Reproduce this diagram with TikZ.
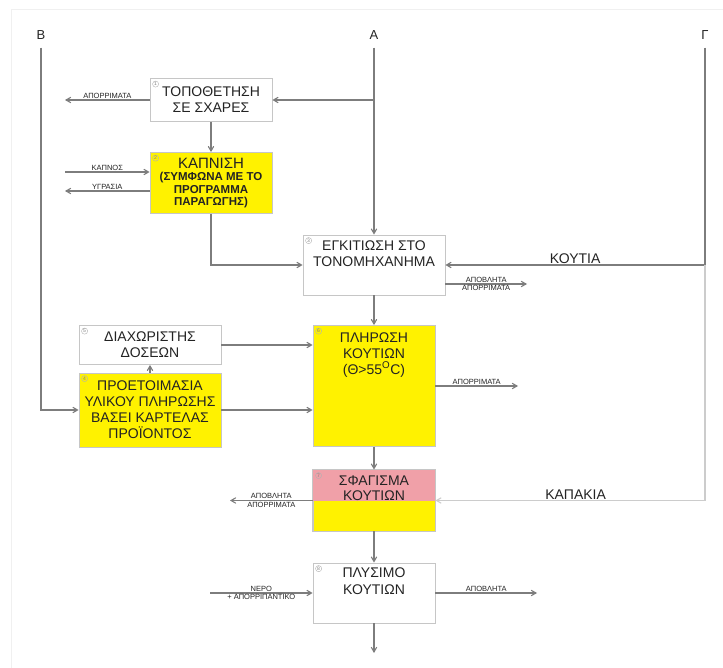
\documentclass[tikz,border=0pt]{standalone}
\usepackage{fontspec}
\setmainfont{Liberation Sans}
\usetikzlibrary{arrows, positioning}
\definecolor{boxyellow}{RGB}{255,242,0}
\definecolor{boxpink}{RGB}{240,160,168}
\definecolor{linegray}{RGB}{125,125,125}
\definecolor{textgray}{RGB}{35,35,35}

\begin{document}
\begin{tikzpicture}[x=1pt, y=-1pt, >=angle 60,
    every node/.style={font=\fontsize{14}{16}\selectfont, text=textgray},
    box/.style={draw=gray!45, rectangle, inner sep=0pt, line width=0.8pt},
    flow/.style={draw=linegray, line width=1.1pt, ->},
    small/.style={font=\fontsize{7.5}{8}\selectfont, inner sep=1.2pt},
    num/.style={draw=gray!60, circle, inner sep=0.6pt, font=\fontsize{5}{5}\selectfont, text=gray},
    side/.style={inner sep=8pt, font=\fontsize{13}{13}\selectfont}]
    \useasboundingbox (0,0) rectangle (723,668);
    \draw[gray!12, line width=1pt] (11,668) -- (11,10) -- (723,10);

    % sources
    \node[side] (srcB) at (41,35) {B};
    \node[side] (srcA) at (374,35) {A};
    \node[side] (srcG) at (705,35) {Γ};

    % boxes
    \node[box, minimum width=122pt, minimum height=43pt, align=center] (b1) at (211,100) {ΤΟΠΟΘΕΤΗΣΗ\\ΣΕ ΣΧΑΡΕΣ};
    \node[box, fill=boxyellow, minimum width=122pt, minimum height=61pt, align=center,
        font=\fontsize{11.5}{12.5}\selectfont\bfseries] (b2) at (211,183)
        {{\fontsize{15}{16}\selectfont\mdseries ΚΑΠΝΙΣΗ}\\(ΣΥΜΦΩΝΑ ΜΕ ΤΟ\\ΠΡΟΓΡΑΜΜΑ\\ΠΑΡΑΓΩΓΗΣ)};
    \node[box, minimum width=142pt, minimum height=60pt] (b3) at (374,265) {};
    \node[anchor=north, align=center, inner sep=5.5pt] (t3) at (b3.north) {ΕΓΚΙΤΙΩΣΗ ΣΤΟ\\ΤΟΝΟΜΗΧΑΝΗΜΑ};
    \node[box, minimum width=142pt, minimum height=39pt, align=center] (b5) at (150,345) {ΔΙΑΧΩΡΙΣΤΗΣ\\ΔΟΣΕΩΝ};
    \node[box, fill=boxyellow, minimum width=142pt, minimum height=74pt, align=center] (b4) at (150,410)
        {ΠΡΟΕΤΟΙΜΑΣΙΑ\\ΥΛΙΚΟΥ ΠΛΗΡΩΣΗΣ\\ΒΑΣΕΙ ΚΑΡΤΕΛΑΣ\\ΠΡΟΪΟΝΤΟΣ};
    \node[box, fill=boxyellow, minimum width=122pt, minimum height=121pt] (b6) at (374,386) {};
    \node[anchor=north, align=center, inner sep=7pt] (t6) at (b6.north) {ΠΛΗΡΩΣΗ\\ΚΟΥΤΙΩΝ\\(Θ>55\textsuperscript{O}C)};
    \node[box, fill=boxyellow, minimum width=122pt, minimum height=61pt] (b7) at (374,500.5) {};
    \fill[boxpink] (b7.north west) rectangle (b7.east);
    \draw[gray!45, line width=0.8pt] (b7.north west) rectangle (b7.south east);
    \node[anchor=north, align=center, inner sep=6pt, font=\fontsize{14}{15}\selectfont] (t7) at (b7.north) {ΣΦΑΓΙΣΜΑ\\ΚΟΥΤΙΩΝ};
    \node[box, minimum width=122pt, minimum height=60pt] (b8) at (374,593) {};
    \node[anchor=north, align=center, inner sep=5pt, font=\fontsize{14}{17}\selectfont] (t8) at (b8.north) {ΠΛΥΣΙΜΟ\\ΚΟΥΤΙΩΝ};

    % step numbers
    \node[num] (n1) at ([shift={(6,6)}]b1.north west) {1};
    \node[num] (n2) at ([shift={(6,6)}]b2.north west) {2};
    \node[num] (n3) at ([shift={(6,6)}]b3.north west) {3};
    \node[num] (n4) at ([shift={(6,6)}]b4.north west) {4};
    \node[num] (n5) at ([shift={(6,6)}]b5.north west) {5};
    \node[num] (n6) at ([shift={(6,6)}]b6.north west) {6};
    \node[num] (n7) at ([shift={(6,6)}]b7.north west) {7};
    \node[num] (n8) at ([shift={(6,6)}]b8.north west) {8};

    % free ends
    \coordinate (a1) at (374,100);
    \coordinate (g1) at (705,265);
    \coordinate (g2) at (705,500.5);
    \coordinate (o1) at (65,100);
    \coordinate (i2) at (65,172);
    \coordinate (o2) at (65,191);
    \coordinate (o3) at (527,284);
    \coordinate (o6) at (518,386);
    \coordinate (o7) at (230,500.5);
    \coordinate (i8) at (210,593);
    \coordinate (o8) at (537,593);
    \coordinate (end) at (374,653);

    % main flow
    \draw[flow] (srcA) -- (b3);
    \draw[flow] (a1) -- (a1 -| b1.east);
    \draw[flow] (srcB) |- (b4);
    \draw[linegray, line width=1.1pt] (srcG) -- (g1);
    \draw[flow] (g1) -- (b3) node[pos=0.5, anchor=south, inner sep=0.5pt] (koutia) {ΚΟΥΤΙΑ};
    \draw[flow, draw=gray!40] (g1) -- (g2) -- (b7) node[pos=0.48, anchor=south, inner sep=0.5pt] (kapakia) {ΚΑΠΑΚΙΑ};
    \draw[flow] (b1) -- (b2);
    \draw[flow] (b2) |- (b3);
    \draw[flow] (b3) -- (b6);
    \draw[flow] (b4) -- (b5);
    \draw[flow] (b5) -- (b5 -| b6.west);
    \draw[flow] (b4) -- (b4 -| b6.west);
    \draw[flow] (b6) -- (b7);
    \draw[flow] (b7) -- (b8);
    \draw[flow] (b8) -- (end);

    % inputs and outputs
    \draw[flow] (b1) -- (o1) node[midway, above, small] (w1) {ΑΠΟΡΡΙΜΑΤΑ};
    \draw[flow] (i2) -- (i2 -| b2.west) node[midway, above, small] (smoke) {ΚΑΠΝΟΣ};
    \draw[flow] (o2 -| b2.west) -- (o2) node[midway, above, small] (hum) {ΥΓΡΑΣΙΑ};
    \draw[flow] (o3 -| b3.east) -- (o3) node[midway, above, small] (w3a) {ΑΠΟΒΛΗΤΑ}
        node[midway, below, small] (w3b) {ΑΠΟΡΡΙΜΑΤΑ};
    \draw[flow] (o6 -| b6.east) -- (o6) node[midway, above, small] (w6) {ΑΠΟΡΡΙΜΑΤΑ};
    \draw[flow] (b7) -- (o7) node[midway, above, small] (w7a) {ΑΠΟΒΛΗΤΑ}
        node[midway, below, small] (w7b) {ΑΠΟΡΡΙΜΑΤΑ};
    \draw[flow] (i8) -- (b8) node[midway, above, small] (water) {ΝΕΡΟ}
        node[midway, below, small] (soap) {+ ΑΠΟΡΡΙΠΑΝΤΙΚΟ};
    \draw[flow] (b8) -- (o8) node[midway, above, small] (w8) {ΑΠΟΒΛΗΤΑ};
\end{tikzpicture}
\end{document}
